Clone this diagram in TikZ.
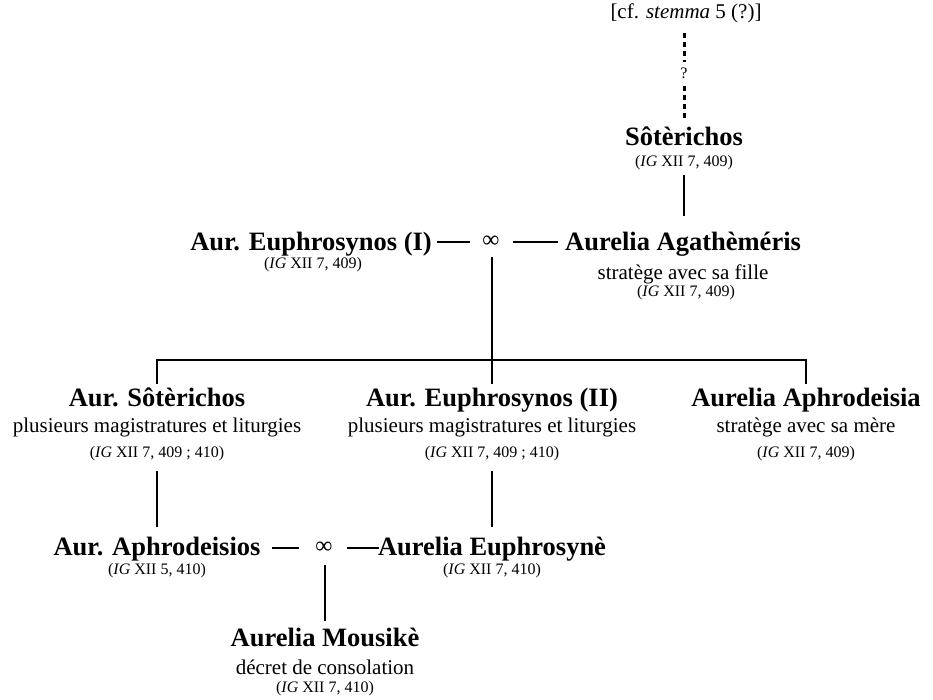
\documentclass[tikz,border=0pt]{standalone}
\usepackage{fontspec}
\setmainfont{Liberation Serif}
\begin{document}
\tikzset{
  nm/.style={font=\fontsize{26.5}{30}\selectfont\bfseries, inner sep=0pt, anchor=base},
  ds/.style={font=\fontsize{21}{24}\selectfont, inner sep=0pt, anchor=base},
  ct/.style={font=\fontsize{16}{19}\selectfont, inner sep=0pt, anchor=base},
  mar/.style={font=\fontsize{24}{27}\selectfont, inner sep=0pt},
  ln/.style={line width=2.2pt},
  dotln/.style={line width=3pt, dash pattern=on 5pt off 4pt},
}
\begin{tikzpicture}[x=1pt,y=-1pt]
\useasboundingbox (0,0) rectangle (933,699);
% top
\node[ds] (cf) at (686,18) {[cf. \textit{stemma} 5 (?)]};
\node[ct] (q) at (684,78) {?};
\node[nm] (sot) at (684,145) {Sôtèrichos};
\node[ct] (sotc) at (684,166) {(\textit{IG} XII 7, 409)};
\coordinate (d1a) at (684,33); \coordinate (d1b) at (684,62);
\coordinate (d2a) at (684,86); \coordinate (d2b) at (684,118);
\draw[dotln] (d1a) -- (d1b);
\draw[dotln] (d2a) -- (d2b);
% row 2
\node[nm, anchor=base east] (eu1) at (432,250) {Aur. Euphrosynos (I)};
\node[ct] (eu1c) at (313,268) {(\textit{IG} XII 7, 409)};
\node[mar] (inf1) at (491,242) {∞};
\node[nm, anchor=base west] (aga) at (565,250) {Aurelia Agathèméris};
\node[ds] (agad) at (683,279) {stratège avec sa fille};
\node[ct] (agac) at (686,296) {(\textit{IG} XII 7, 409)};
\coordinate (s1) at (684,175); \coordinate (s2) at (684,216);
\draw[ln] (s1) -- (s2);
\coordinate (l1a) at (437,242); \coordinate (l1b) at (470,242);
\coordinate (r1a) at (513,242); \coordinate (r1b) at (558,242);
\draw[ln] (l1a) -- (l1b);
\draw[ln] (r1a) -- (r1b);
% bar
\coordinate (v0) at (492,257);
\coordinate (j2) at (492,360);
\coordinate (j1) at (157,360);
\coordinate (j3) at (806,360);
\coordinate (c1) at (157,384);
\coordinate (c2) at (492,384);
\coordinate (c3) at (806,384);
\draw[ln] (v0) -- (j2);
\draw[ln] (c1) -- (j1) -- (j3) -- (c3);
\draw[ln] (j2) -- (c2);
% row 3
\node[nm] (sot2) at (157,406) {Aur. Sôtèrichos};
\node[ds] (sot2d) at (157,432) {plusieurs magistratures et liturgies};
\node[ct] (sot2c) at (157,457) {(\textit{IG} XII 7, 409 ; 410)};
\node[nm] (eu2) at (492,406) {Aur. Euphrosynos (II)};
\node[ds] (eu2d) at (492,432) {plusieurs magistratures et liturgies};
\node[ct] (eu2c) at (492,457) {(\textit{IG} XII 7, 409 ; 410)};
\node[nm] (aph) at (806,406) {Aurelia Aphrodeisia};
\node[ds] (aphd) at (806,432) {stratège avec sa mère};
\node[ct] (aphc) at (806,457) {(\textit{IG} XII 7, 409)};
\coordinate (g1a) at (157,471); \coordinate (g1b) at (157,527);
\coordinate (g2a) at (492,471); \coordinate (g2b) at (492,527);
\draw[ln] (g1a) -- (g1b);
\draw[ln] (g2a) -- (g2b);
% row 4
\node[nm] (aphs) at (157,555) {Aur. Aphrodeisios};
\node[ct] (aphsc) at (157,574) {(\textit{IG} XII 5, 410)};
\node[mar] (inf2) at (324,548) {∞};
\node[nm] (eu3) at (492,555) {Aurelia Euphrosynè};
\node[ct] (eu3c) at (492,574) {(\textit{IG} XII 7, 410)};
\coordinate (l2a) at (272,548); \coordinate (l2b) at (299,548);
\coordinate (r2a) at (347,548); \coordinate (r2b) at (379,548);
\draw[ln] (l2a) -- (l2b);
\draw[ln] (r2a) -- (r2b);
\coordinate (m1) at (325,565); \coordinate (m2) at (325,621);
\draw[ln] (m1) -- (m2);
% row 5
\node[nm] (mou) at (325,646) {Aurelia Mousikè};
\node[ds] (moud) at (325,674) {décret de consolation};
\node[ct] (mouc) at (325,692) {(\textit{IG} XII 7, 410)};
\end{tikzpicture}
\end{document}
